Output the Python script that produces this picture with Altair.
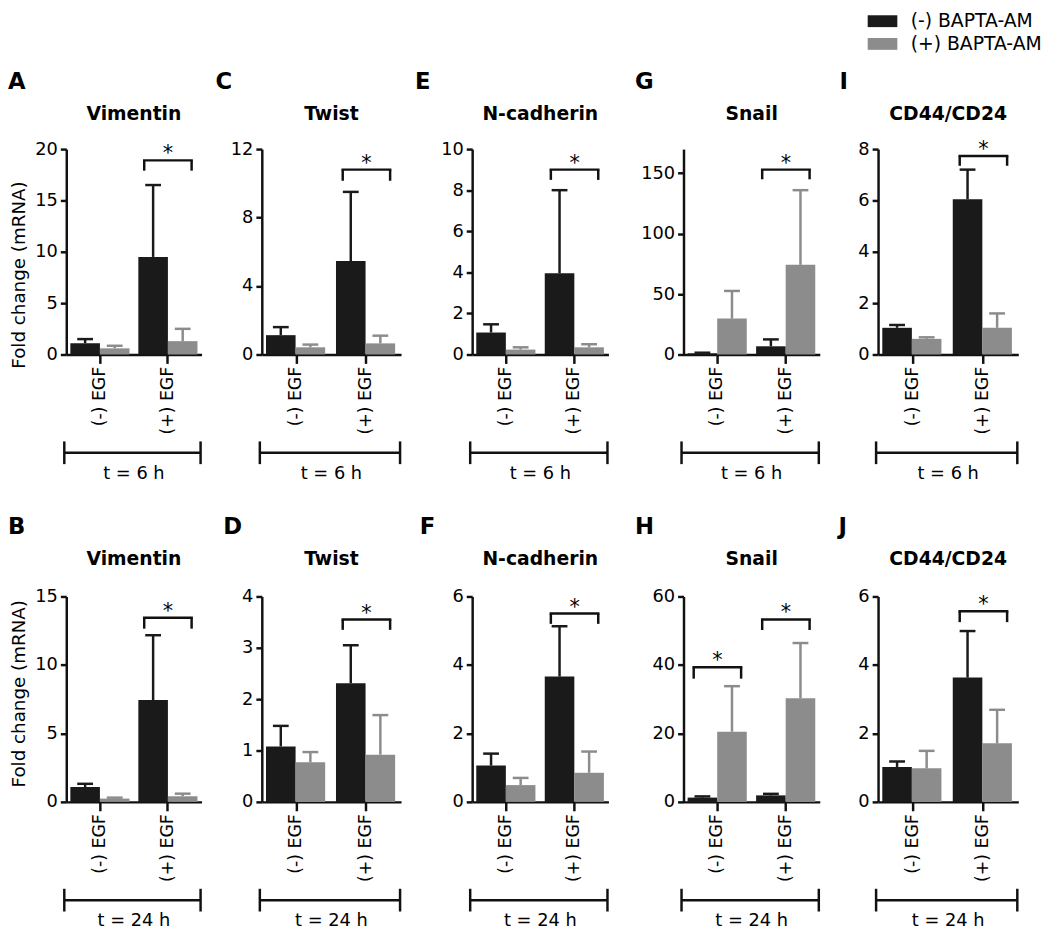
import altair as alt
import pandas as pd

FONT = "DejaVu Sans"
BLACK = "#1a1a1a"
GRAY = "#8c8c8c"
AXC = "#111111"

# ---------------- text ----------------
genes = ["Vimentin", "Twist", "N-cadherin", "Snail", "CD44/CD24"]
letters_6h = ["A", "C", "E", "G", "I"]
letters_24h = ["B", "D", "F", "H", "J"]
time_labels = ["t = 6 h", "t = 24 h"]
egf_groups = ["(-) EGF", "(+) EGF"]
bapta = ["(-) BAPTA-AM", "(+) BAPTA-AM"]
y_title = "Fold change (mRNA)"
star = "*"

# ---------------- values: t = 6 h ----------------
black_mean_6h = [[1.1, 9.5], [1.13, 5.46], [1.07, 3.95], [1.0, 6.8], [1.04, 6.05]]
black_err_6h = [[1.5, 16.5], [1.6, 9.5], [1.47, 8.0], [1.5, 12.5], [1.15, 7.2]]
gray_mean_6h = [[0.6, 1.3], [0.42, 0.65], [0.24, 0.35], [29.7, 74.2], [0.61, 1.04]]
gray_err_6h = [[0.85, 2.5], [0.58, 1.1], [0.35, 0.5], [52.6, 136.0], [0.67, 1.6]]
ymax_6h = [20, 12, 10, 170, 8]
yticks_6h = [[0, 5, 10, 15, 20], [0, 4, 8, 12], [0, 2, 4, 6, 8, 10], [0, 50, 100, 150], [0, 2, 4, 6, 8]]
sig_6h = [[("(+) EGF", 18.9, 17.9)], [("(+) EGF", 10.8, 10.15)], [("(+) EGF", 9.0, 8.5)],
          [("(+) EGF", 153.0, 145.0)], [("(+) EGF", 7.73, 7.35)]]

# ---------------- values: t = 24 h ----------------
black_mean_24h = [[1.08, 7.44], [1.08, 2.31], [1.06, 3.66], [1.25, 1.9], [1.02, 3.63]]
black_err_24h = [[1.32, 12.17], [1.48, 3.05], [1.41, 5.13], [1.6, 2.35], [1.18, 4.99]]
gray_mean_24h = [[0.24, 0.41], [0.77, 0.92], [0.49, 0.85], [20.5, 30.3], [0.98, 1.71]]
gray_err_24h = [[0.31, 0.6], [0.97, 1.69], [0.70, 1.47], [33.8, 46.4], [1.49, 2.69]]
ymax_24h = [15, 4, 6, 60, 6]
yticks_24h = [[0, 5, 10, 15], [0, 1, 2, 3, 4], [0, 2, 4, 6], [0, 20, 40, 60], [0, 2, 4, 6]]
sig_24h = [[("(+) EGF", 13.44, 12.65)], [("(+) EGF", 3.55, 3.35)], [("(+) EGF", 5.5, 5.2)],
           [("(-) EGF", 39.3, 36.0), ("(+) EGF", 53.3, 50.2)], [("(+) EGF", 5.57, 5.25)]]

# ---------------- layout ----------------
PANEL_W = [137, 141, 138, 138, 142]
PANEL_H = 208
LEFT_EXT = [59, 60, 71, 75, 58]
LETTER_X = [[-59, -47, -58, -49, -39], [-59, -39, -53, -49, -40]]
LETTER_Y = [-61, -63]
TITLE_Y = [-29, -32]
YTITLE_Y = [127, 98]
TOP_EXT = 90
TOP_EXT_LEGEND = 145
BOT_EXT = 135


def panel(col, row):
    W = PANEL_W[col]
    H = PANEL_H
    if row == 0:
        bm, be, gm, ge = black_mean_6h, black_err_6h, gray_mean_6h, gray_err_6h
        ymax, ticks, sig = ymax_6h[col], yticks_6h[col], sig_6h[col]
        letter, tlabel = letters_6h[col], time_labels[0]
    else:
        bm, be, gm, ge = black_mean_24h, black_err_24h, gray_mean_24h, gray_err_24h
        ymax, ticks, sig = ymax_24h[col], yticks_24h[col], sig_24h[col]
        letter, tlabel = letters_24h[col], time_labels[1]

    recs = []
    for gi, g in enumerate(egf_groups):
        recs.append({"group": g, "treatment": bapta[0], "mean": bm[col][gi], "err": be[col][gi]})
        recs.append({"group": g, "treatment": bapta[1], "mean": gm[col][gi], "err": ge[col][gi]})
    df = pd.DataFrame(recs)
    br = pd.DataFrame([{"group": g, "top": t, "low": l} for (g, t, l) in sig])
    dummy = pd.DataFrame({"k": [0]})

    xs = alt.Scale(domain=egf_groups, paddingInner=0.13, paddingOuter=0.06)
    xax = alt.Axis(title=None, labelAngle=270, labelAlign="right", labelBaseline="middle",
                   labelFont=FONT, labelFontSize=17.5, labelColor="black", labelPadding=3,
                   tickSize=9, tickWidth=2.5, tickColor=AXC, domainWidth=2.5, domainColor=AXC,
                   grid=False)
    X = alt.X("group:N", scale=xs, axis=xax)
    XO = alt.XOffset("treatment:N", scale=alt.Scale(domain=bapta), sort=bapta)

    ys = alt.Scale(domain=[0, ymax], nice=False, zero=True)
    yax = alt.Axis(values=ticks, title=(y_title if col == 0 else None),
                   titleFont=FONT, titleFontSize=18.5, titleFontWeight="normal", titleColor="black",
                   titlePadding=6, titleY=YTITLE_Y[row],
                   labelFont=FONT, labelFontSize=18, labelColor="black",
                   labelPadding=3, tickSize=6, tickWidth=2.5, tickColor=AXC,
                   domainWidth=2.5, domainColor=AXC, grid=False)

    cscale = alt.Scale(domain=bapta, range=[BLACK, GRAY])
    is_legend_panel = (row == 0 and col == 4)
    if is_legend_panel:
        leg = alt.Legend(title=None, orient="none", legendX=-5, legendY=-139,
                         symbolType="M-2.5,-1H2.5V1H-2.5Z", symbolSize=144,
                         symbolStrokeWidth=0, symbolOpacity=1,
                         labelFont=FONT, labelFontSize=19, labelColor="black",
                         labelOffset=19, rowPadding=3, padding=0)
    else:
        leg = None
    C_leg = alt.Color("treatment:N", scale=cscale, legend=leg)
    C = alt.Color("treatment:N", scale=cscale, legend=None)

    top_ext = TOP_EXT_LEGEND if is_legend_panel else TOP_EXT
    spacer = alt.Chart(dummy).mark_rule(strokeOpacity=0, strokeWidth=1).encode(
        x=alt.value(-LEFT_EXT[col]), x2=alt.value(-LEFT_EXT[col]),
        y=alt.value(-top_ext), y2=alt.value(H + BOT_EXT))

    bars = alt.Chart(df).mark_bar(opacity=1).encode(
        x=X, xOffset=XO, y=alt.Y("mean:Q", scale=ys, axis=yax), color=C_leg)
    errs = alt.Chart(df).mark_rule(strokeWidth=2.5).encode(
        x=X, xOffset=XO, y=alt.Y("mean:Q", scale=ys, axis=yax), y2=alt.Y2("err:Q"), color=C)
    caps = alt.Chart(df).mark_tick(orient="horizontal", size=16, thickness=2.5, opacity=1).encode(
        x=X, xOffset=XO, y=alt.Y("err:Q", scale=ys, axis=yax), color=C)

    Ytop = alt.Y("top:Q", scale=ys, axis=yax)
    br_h = alt.Chart(br).mark_tick(orient="horizontal", size=50.5, thickness=2.5,
                                   color=AXC, opacity=1).encode(x=X, y=Ytop)
    br_l = alt.Chart(br).mark_rule(xOffset=-24, strokeWidth=2.5, color=AXC).encode(
        x=X, y=Ytop, y2=alt.Y2("low:Q"))
    br_r = alt.Chart(br).mark_rule(xOffset=24, strokeWidth=2.5, color=AXC).encode(
        x=X, y=Ytop, y2=alt.Y2("low:Q"))
    stars = alt.Chart(br).mark_text(text=star, font=FONT, fontSize=21, color="black",
                                    baseline="alphabetic", align="center").encode(x=X, y=Ytop)

    t_line = alt.Chart(dummy).mark_rule(strokeWidth=2.5, color=AXC).encode(
        x=alt.value(-2), x2=alt.value(W - 1), y=alt.value(H + 99.5))
    t_capl = alt.Chart(dummy).mark_rule(strokeWidth=2.5, color=AXC).encode(
        x=alt.value(-2), y=alt.value(H + 88), y2=alt.value(H + 111))
    t_capr = alt.Chart(dummy).mark_rule(strokeWidth=2.5, color=AXC).encode(
        x=alt.value(W - 1), y=alt.value(H + 88), y2=alt.value(H + 111))
    t_text = alt.Chart(dummy).mark_text(text=tlabel, font=FONT, fontSize=18, color="black",
                                        baseline="alphabetic", align="center").encode(
        x=alt.value(W / 2), y=alt.value(H + 126))
    let = alt.Chart(dummy).mark_text(text=letter, font=FONT, fontSize=23, fontWeight="bold",
                                     color="black", baseline="alphabetic", align="left").encode(
        x=alt.value(LETTER_X[row][col]), y=alt.value(LETTER_Y[row]))
    ttl = alt.Chart(dummy).mark_text(text=genes[col], font=FONT, fontSize=19, fontWeight="bold",
                                     color="black", baseline="alphabetic", align="center").encode(
        x=alt.value(W / 2), y=alt.value(TITLE_Y[row]))

    return alt.layer(spacer, bars, errs, caps, br_h, br_l, br_r, stars,
                     t_line, t_capl, t_capr, t_text, let, ttl).properties(width=W, height=H)


row1 = alt.hconcat(*[panel(c, 0) for c in range(5)], spacing=0).resolve_scale(color="independent")
row2 = alt.hconcat(*[panel(c, 1) for c in range(5)], spacing=0).resolve_scale(color="independent")

chart = alt.vconcat(row1, row2, spacing=20).resolve_scale(color="independent").properties(
    padding={"left": 0, "top": -8, "right": 0, "bottom": 0}
).configure_view(stroke=None)

chart.save("out.html", embed_options={"renderer": "svg", "actions": False})
